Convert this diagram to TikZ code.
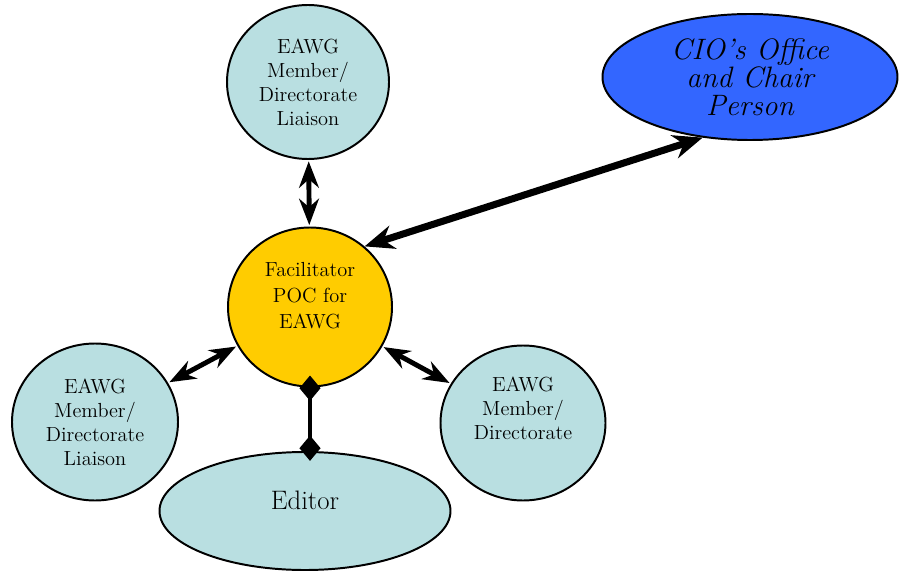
\documentclass[tikz,border=0pt]{standalone}
\usepackage{tikz}
\usetikzlibrary{shapes.geometric,arrows.meta}

\definecolor{paleblue}{RGB}{185,223,225}
\definecolor{facyellow}{RGB}{255,204,0}
\definecolor{cioblue}{RGB}{51,102,255}

\begin{document}
\begin{tikzpicture}[
    x=0.025cm,
    y=-0.025cm,
    >=Stealth,
    line width=3.5pt
]

\tikzset{
    member/.style={
        ellipse,
        draw,
        line width=1.4pt,
        fill=paleblue,
        align=center,
        inner sep=0pt,
        font=\fontsize{14.5}{17}\selectfont
    },
    link/.style={<->, line width=3.5pt, shorten <=1pt, shorten >=1pt}
}

\useasboundingbox (0,0) rectangle (901,571);

\node[member, minimum width=162*0.025cm, minimum height=154*0.025cm] (top) at (308,82)
    {EAWG\\Member/\\Directorate\\Liaison};
\node[member, minimum width=166*0.025cm, minimum height=157*0.025cm] (left) at (95,422)
    {EAWG\\Member/\\Directorate\\Liaison};
\node[member, minimum width=165*0.025cm, minimum height=155*0.025cm, text depth=21pt] (right) at (523,423)
    {EAWG\\Member/\\Directorate};
\node[member, minimum width=291*0.025cm, minimum height=118*0.025cm,
      font=\fontsize{19}{22}\selectfont] (editor) at (305,511) {\raisebox{15pt}{Editor}};

\node[member, fill=facyellow, minimum width=164*0.025cm, minimum height=159*0.025cm,
      text depth=17pt, font=\fontsize{14.5}{18.5}\selectfont] (fac) at (310,307)
    {Facilitator\\POC for\\EAWG};

\node[member, fill=cioblue, minimum width=295*0.025cm, minimum height=126*0.025cm,
      font=\fontsize{21}{20}\selectfont\itshape] (cio) at (750,77)
    {CIO's Office\\and Chair\\Person};

\draw[link] (top) -- (fac);
\draw[link] (fac) -- (left);
\draw[link] (fac) -- (right);
\draw[line width=5pt, {Stealth[length=21pt,width=17pt]}-{Stealth[length=21pt,width=17pt]}]
    (fac.48) -- (cio.-128);

\draw[{Diamond[length=18pt,width=15pt]}-{Diamond[length=18pt,width=15pt]}, line width=2.8pt,
      shorten <=-8.5pt, shorten >=-7pt] (fac.south) -- (fac.south |- editor.north);

\end{tikzpicture}
\end{document}
